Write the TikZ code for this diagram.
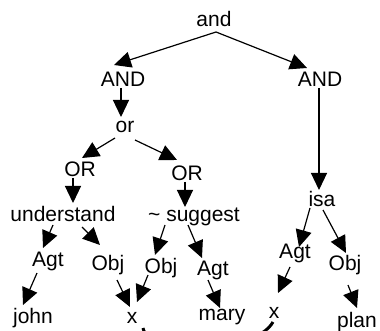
\documentclass[tikz,border=0pt]{standalone}
\usepackage{fontspec}
\setmainfont{Liberation Sans}
\usetikzlibrary{arrows.meta,calc}

\begin{document}
\begin{tikzpicture}
     [x=1pt, y=-1pt,
      every node/.style={anchor=base, inner sep=0pt, font=\fontsize{21}{25}\selectfont},
      rel/.style={-{Triangle[length=17pt,width=16pt]}, line width=1.2pt},
      coref/.style={line width=3pt}]
     %[semithick, >=latex, inner sep=.3ex]
   \useasboundingbox (0,0) rectangle (380,331);
   \clip (0,0) rectangle (380,331);
   \node (ROOT) at (214,27) {and};
   \node (A1) at (123,87) {AND};
   \node (A2) at (320,87) {AND};
   \node (O1) at (125,133) {or};
   \node (O2) at (80,177) {OR};
   \node (O3) at (187,181) {OR};
   \node (UND) at (63,222) {understand};
   \node (SUG) at (194,222) {\textasciitilde{} suggest};
   \node (ISA) at (322,207) {isa};
   \node (AG1) at (48,266) {Agt};
   \node (OB1) at (108,270) {Obj};
   \node (OB2) at (161,273) {Obj};
   \node (AG2) at (213,275) {Agt};
   \node (AG3) at (295,258) {Agt};
   \node (OB3) at (345,270) {Obj};
   \node (JOHN) at (33,323) {john};
   \node (X1) at (132,323) {x};
   \node (MARY) at (222,320) {mary};
   \node (X2) at (274,318) {x};
   \node (PLAN) at (357,327) {plan};
   % top levels
   \draw[rel] ($(ROOT.base)+(2,5)$) -- ($(A1.base)+(-9,-22)$);
   \draw[rel] ($(ROOT.base)+(2,5)$) -- ($(A2.base)+(-13,-19)$);
   \draw[rel] ($(A1.base)+(-2,1)$) -- ($(O1.base)+(-4,-16)$);
   \draw[rel] ($(A2.base)+(-1,1)$) -- ($(ISA.base)+(-3,-17)$);
   \draw[rel] ($(O1.base)+(-10,5)$) -- ($(O2.base)+(2,-19)$);
   \draw[rel] ($(O1.base)+(10,7)$) -- ($(O3.base)+(-10,-21)$);
   \draw[rel] ($(O2.base)+(-7,1)$) -- ($(UND.base)+(10,-19)$);
   \draw[rel] ($(O3.base)+(-2,1)$) -- ($(SUG.base)+(-9,-15)$);
   % relations
   \draw[rel] ($(UND.base)+(-10,3)$) -- ($(AG1.base)+(-5,-18)$);
   \draw[rel] ($(UND.base)+(19,5)$) -- ($(OB1.base)+(-8,-25)$);
   \draw[rel] ($(SUG.base)+(-29,3)$) -- ($(OB2.base)+(-6,-18)$);
   \draw[rel] ($(SUG.base)+(-6,3)$) -- ($(AG2.base)+(-11,-17)$);
   \draw[rel] ($(ISA.base)+(-12,1)$) -- ($(AG3.base)+(4,-11)$);
   \draw[rel] ($(ISA.base)+(1,3)$) -- ($(OB3.base)+(1,-17)$);
   % leaves
   \draw[rel] ($(AG1.base)+(-11,7)$) -- ($(JOHN.base)+(-10,-18)$);
   \draw[rel] ($(OB1.base)+(9,10)$) -- ($(X1.base)+(-2,-16)$);
   \draw[rel] ($(OB2.base)+(-13,2)$) -- ($(X1.base)+(5,-21)$);
   \draw[rel] ($(AG2.base)+(-5,5)$) -- ($(MARY.base)+(-2,-12)$);
   \draw[rel] ($(AG3.base)+(-5,9)$) -- ($(X2.base)+(4,-25)$);
   \draw[rel] ($(OB3.base)+(3,15)$) -- ($(PLAN.base)+(0,-19)$);
   \draw[coref] ($(X1.base)+(11,5)$) .. controls +(6,30) and +(-18,32) .. ($(X2.base)+(-1,4)$);
\end{tikzpicture}
\end{document}
